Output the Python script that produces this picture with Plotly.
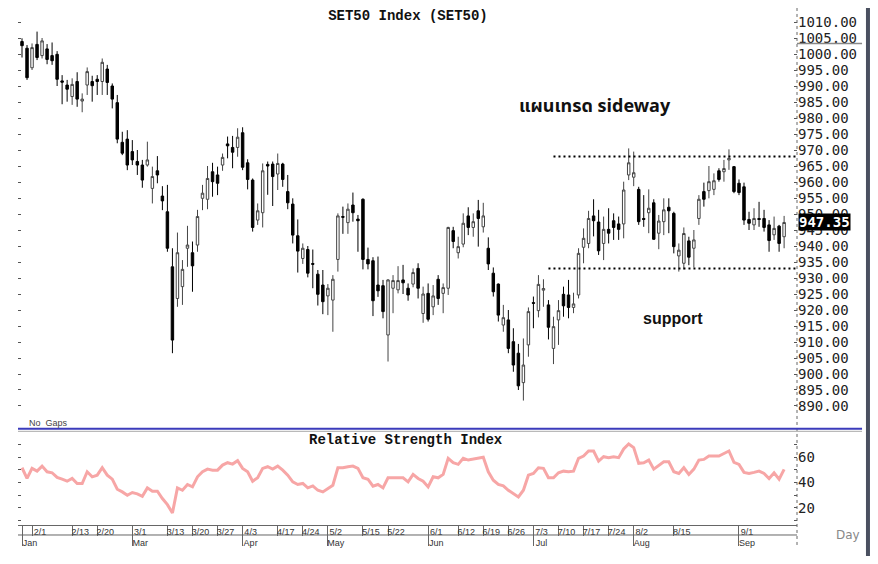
import plotly.graph_objects as go

# ---------------- data ----------------
open_ = [1003.9, 1001.8, 995.7, 1003.0, 999.5, 1001.6, 999.5, 999.9, 991.6, 990.3,
         986.7, 991.4, 985.3, 990.3, 991.4, 992.1, 991.4, 995.3, 990.0, 984.8,
         972.4, 973.4, 969.5, 966.4, 965.3, 965.3, 958.0, 963.5, 955.6, 950.7,
         933.5, 923.6, 927.3, 939.3, 937.9, 940.3, 954.9, 954.6, 963.2, 962.2,
         965.3, 971.9, 970.8, 970.8, 975.4, 966.0, 960.6, 948.1, 950.4, 965.5,
         965.6, 962.5, 965.6, 957.0, 953.1, 943.2, 936.1, 938.9, 934.5, 931.2,
         927.8, 924.4, 923.1, 935.8, 949.2, 947.3, 952.8, 948.4, 954.6, 935.8,
         935.4, 927.8, 927.6, 912.2, 926.8, 926.3, 929.4, 926.8, 928.1, 933.0,
         918.9, 925.2, 921.0, 929.6, 925.2, 926.8, 944.8, 937.9, 940.6, 949.4,
         945.8, 951.0, 946.0, 939.3, 931.5, 928.1, 915.3, 916.9, 910.1, 906.5,
         897.3, 909.1, 922.3, 919.8, 926.2, 921.6, 908.0, 916.9, 924.9, 924.7,
         920.8, 924.7, 939.6, 940.8, 949.4, 947.5, 940.8, 945.2, 947.9, 946.9,
         946.9, 962.2, 961.5, 957.7, 948.6, 950.4, 953.5, 944.0, 947.6, 952.1,
         950.2, 936.9, 934.6, 941.6, 939.3, 948.6, 957.0, 957.3, 957.7, 963.5,
         963.2, 966.9, 964.8, 959.6, 958.5, 948.3, 946.6, 948.6, 948.6, 946.6,
         943.5, 946.2, 942.9]
high = [1004.9, 1002.8, 1003.3, 1007.0, 1005.0, 1003.1, 1003.6, 1000.9, 993.4, 991.9,
        992.4, 994.3, 987.7, 995.8, 993.2, 993.4, 998.6, 996.6, 990.8, 987.2,
        975.7, 976.2, 973.1, 970.0, 966.9, 972.6, 964.8, 968.1, 958.7, 959.1,
        939.3, 944.2, 935.6, 946.3, 941.4, 951.3, 959.1, 965.0, 966.0, 964.8,
        968.9, 974.2, 974.4, 976.8, 977.1, 967.1, 961.1, 953.3, 965.8, 966.4,
        966.4, 968.9, 966.0, 962.2, 954.9, 948.3, 940.8, 940.0, 938.9, 932.5,
        932.5, 928.1, 930.9, 950.2, 952.3, 953.3, 956.7, 949.7, 954.9, 939.5,
        936.5, 936.7, 929.4, 929.6, 930.9, 933.7, 934.1, 928.3, 933.0, 934.6,
        927.3, 928.3, 927.8, 930.9, 928.3, 946.0, 946.0, 942.9, 950.2, 952.1,
        950.2, 954.4, 953.5, 942.7, 933.3, 928.3, 921.6, 920.0, 914.3, 909.4,
        911.1, 920.8, 924.2, 930.9, 929.6, 923.1, 917.9, 923.1, 927.3, 929.4,
        925.4, 939.3, 945.5, 951.0, 954.6, 951.3, 949.2, 951.8, 950.2, 949.2,
        960.1, 970.5, 969.5, 958.5, 955.9, 957.7, 954.6, 949.7, 954.9, 954.9,
        950.7, 940.8, 945.8, 942.9, 945.0, 955.9, 959.8, 965.0, 962.7, 964.3,
        966.9, 970.2, 965.0, 960.8, 959.8, 950.7, 951.8, 953.8, 951.3, 948.1,
        949.2, 946.6, 949.4]
low = [998.9, 991.9, 995.0, 998.1, 998.6, 996.8, 996.6, 990.0, 984.3, 985.1,
       984.1, 983.5, 981.8, 987.2, 985.1, 987.2, 987.2, 987.2, 983.0, 972.1,
       968.4, 963.7, 965.3, 962.2, 958.2, 964.8, 953.3, 959.6, 951.2, 938.2,
       906.5, 921.0, 921.6, 933.5, 925.7, 938.2, 951.2, 951.5, 955.4, 955.9,
       963.5, 967.4, 964.3, 967.9, 963.7, 957.7, 944.5, 946.6, 945.8, 956.0,
       952.5, 957.5, 958.5, 951.5, 940.8, 931.7, 934.4, 930.2, 926.8, 921.4,
       918.7, 918.4, 913.2, 932.0, 943.8, 943.8, 947.6, 938.2, 932.7, 932.7,
       918.1, 924.1, 917.4, 903.9, 919.0, 925.2, 925.0, 922.9, 927.1, 923.6,
       916.0, 916.4, 918.4, 921.6, 919.0, 924.7, 939.3, 936.1, 939.6, 943.4,
       942.9, 939.8, 944.2, 932.5, 924.2, 916.4, 913.2, 906.5, 900.7, 895.0,
       891.7, 905.4, 914.3, 917.7, 921.0, 910.8, 903.1, 909.1, 917.9, 917.4,
       919.0, 923.6, 934.6, 939.3, 943.0, 937.2, 935.6, 940.8, 941.9, 941.9,
       942.4, 960.6, 958.7, 946.6, 946.0, 944.0, 941.9, 939.0, 943.4, 944.0,
       937.7, 932.0, 932.7, 934.0, 933.3, 946.6, 952.3, 954.9, 955.9, 960.1,
       960.1, 963.8, 956.5, 955.9, 946.6, 945.0, 945.0, 946.0, 944.5, 938.2,
       941.9, 938.2, 939.3]
close = [1002.6, 992.6, 1002.0, 998.9, 1004.1, 998.3, 997.9, 992.1, 991.2, 989.0,
         990.5, 985.9, 985.9, 994.5, 990.1, 991.4, 997.4, 991.1, 985.9, 973.4,
         969.0, 965.3, 966.9, 965.3, 960.6, 966.9, 961.7, 962.2, 954.1, 939.3,
         910.6, 937.9, 932.7, 940.3, 933.8, 949.2, 956.5, 961.1, 960.1, 959.6,
         967.7, 971.3, 969.3, 974.0, 964.6, 960.8, 945.8, 951.0, 963.5, 965.0,
         961.7, 965.8, 960.8, 953.5, 943.4, 938.4, 939.3, 931.5, 934.3, 924.9,
         922.6, 926.8, 929.6, 949.4, 949.0, 951.5, 950.4, 947.9, 935.8, 934.4,
         922.9, 926.0, 919.5, 929.4, 929.2, 929.2, 928.5, 924.7, 931.7, 926.8,
         925.0, 917.1, 924.4, 923.6, 927.0, 945.8, 941.4, 939.8, 947.1, 945.8,
         947.6, 948.6, 949.4, 934.4, 925.7, 918.4, 917.6, 908.0, 902.8, 896.3,
         902.8, 919.5, 922.1, 928.0, 926.7, 914.6, 914.8, 919.8, 921.3, 920.8,
         921.9, 937.7, 942.4, 948.6, 947.9, 938.5, 945.2, 944.0, 945.8, 945.2,
         957.5, 966.0, 962.9, 947.6, 948.3, 951.8, 942.1, 947.8, 951.3, 951.0,
         939.8, 938.7, 943.9, 936.5, 941.9, 954.6, 954.6, 960.1, 960.4, 960.8,
         964.2, 967.4, 957.0, 956.7, 948.1, 947.1, 948.6, 948.3, 945.8, 941.7,
         945.5, 940.8, 947.35]
rsi = [51.7, 43.2, 51.2, 49.0, 53.0, 48.5, 47.7, 44.0, 42.6, 41.0,
       43.2, 39.2, 39.2, 48.5, 44.5, 45.8, 51.7, 45.8, 42.6, 34.6,
       32.5, 29.8, 32.0, 31.0, 29.0, 35.7, 33.0, 33.0, 27.2, 22.4,
       15.7, 35.7, 33.8, 38.4, 36.5, 44.5, 48.5, 50.6, 49.8, 49.8,
       53.8, 55.7, 54.6, 57.3, 51.2, 48.5, 41.0, 43.7, 51.2, 52.5,
       50.6, 53.0, 49.8, 45.8, 40.5, 38.4, 39.2, 35.7, 37.3, 33.8,
       32.5, 35.2, 37.8, 51.7, 51.7, 52.5, 53.0, 51.2, 43.7, 42.6,
       37.0, 38.4, 35.7, 43.7, 43.7, 43.7, 43.7, 40.5, 46.4, 43.2,
       41.0, 36.5, 44.5, 43.7, 46.4, 59.2, 55.7, 54.4, 59.2, 57.8,
       58.6, 59.7, 60.0, 48.5, 41.8, 38.4, 37.3, 33.8, 31.0, 28.5,
       33.8, 45.8, 47.2, 51.7, 51.2, 43.7, 43.7, 47.7, 49.0, 48.5,
       49.0, 59.2, 61.0, 65.0, 65.0, 57.0, 60.5, 59.7, 60.5, 59.7,
       66.6, 70.6, 67.7, 55.2, 55.7, 57.8, 50.6, 53.8, 56.4, 56.4,
       48.5, 47.2, 51.7, 46.4, 50.6, 57.8, 58.3, 61.0, 61.0, 61.0,
       63.0, 65.0, 56.0, 54.4, 48.0, 47.2, 48.0, 49.0, 47.2, 43.2,
       47.7, 42.6, 50.4]

day_tick_idx = [2, 10, 15, 22, 29, 34, 39, 44, 51, 56, 61, 68, 73, 81, 87, 92, 97,
                102, 107, 112, 117, 122, 130, 143]
day_tick_labels = ["2/1", "2/13", "2/20", "3/1", "3/13", "3/20", "3/27", "4/3", "4/17",
                   "4/24", "5/2", "5/15", "5/22", "6/1", "6/12", "6/19", "6/26", "7/3",
                   "7/10", "7/17", "7/24", "8/2", "8/15", "9/1"]
month_tick_idx = [0, 22, 44, 61, 81, 102, 122, 143]
month_labels = ["Jan", "Mar", "Apr", "May", "Jun", "Jul", "Aug", "Sep"]

price_ticks = list(range(890, 1011, 5))
rsi_ticks = list(range(10, 81, 10))
rsi_ticktext = [str(v) if v in (20, 40, 60) else "" for v in rsi_ticks]

resistance_level = 968.0
resistance_start = 106
support_level = 933.0
support_start = 105
marker_level = 1003.3

idx = list(range(len(close)))
last_close = close[-1]

# ---------------- figure ----------------
XR = [-0.8, 154.57]
MONO = "DejaVu Sans Mono, monospace"
SANS = "Liberation Sans, Arial, sans-serif"
COURIER = "Courier New, Liberation Mono, monospace"

fig = go.Figure()
fig.add_trace(go.Candlestick(
    x=idx, open=open_, high=high, low=low, close=close,
    xaxis="x", yaxis="y", whiskerwidth=0,
    increasing=dict(line=dict(color="#444444", width=1), fillcolor="white"),
    decreasing=dict(line=dict(color="#000000", width=1), fillcolor="black"),
    showlegend=False, hoverinfo="skip"))
fig.add_trace(go.Scatter(
    x=idx, y=rsi, xaxis="x2", yaxis="y2", mode="lines",
    line=dict(color="#f7a6a6", width=3), showlegend=False, hoverinfo="skip"))
# carrier for the month axis (no visible marks)
fig.add_trace(go.Scatter(x=[], y=[], xaxis="x3", yaxis="y2", mode="lines",
                         showlegend=False, hoverinfo="skip"))

main_bottom = 0.19417
rsi_top = 0.18058

fig.update_layout(
    width=862, height=548,
    margin=dict(l=10, r=73, t=2, b=31),
    paper_bgcolor="white", plot_bgcolor="white", showlegend=False,
    title=dict(text="<b>SET50 Index (SET50)</b>", x=0.4640, xanchor="center",
               y=0.9872, yanchor="middle",
               font=dict(family=COURIER, size=14, color="#111")),
    xaxis=dict(domain=[0, 1], range=XR, anchor="y", showticklabels=False, ticks="",
               showgrid=False, zeroline=False, showline=False,
               rangeslider=dict(visible=False)),
    yaxis=dict(domain=[main_bottom, 1], range=[884.06, 1013.75], side="right", anchor="x",
               tickvals=price_ticks, tickformat=".2f", ticks="inside", ticklen=3,
               tickcolor="#555", mirror="ticks", showgrid=False, zeroline=False,
               showline=False, tickfont=dict(family=MONO, size=14, color="#222")),
    xaxis2=dict(domain=[0, 1], range=XR, anchor="y2", tickvals=day_tick_idx,
                ticktext=day_tick_labels, ticks="outside", ticklen=10, tickcolor="#666",
                showline=True, linecolor="#666", linewidth=1, showgrid=False,
                zeroline=False, tickfont=dict(family=SANS, size=9, color="#333"),
                ticklabelshift=8, ticklabelstandoff=-12),
    xaxis3=dict(overlaying="x2", anchor="y2", range=XR, side="bottom",
                tickvals=month_tick_idx, ticktext=month_labels, ticks="outside",
                ticklen=20, tickcolor="#666", showgrid=False, zeroline=False,
                showline=False, tickfont=dict(family=SANS, size=9, color="#333"),
                ticklabelshift=8, ticklabelstandoff=-11),
    yaxis2=dict(domain=[0, rsi_top], range=[6.2, 80.1], side="right", anchor="x2",
                tickvals=rsi_ticks, ticktext=rsi_ticktext, ticks="inside", ticklen=3,
                tickcolor="#555", mirror="ticks", showgrid=False, zeroline=False,
                showline=False, tickfont=dict(family=MONO, size=14, color="#222")),
)

shapes = [
    dict(type="line", xref="x", yref="y", x0=resistance_start, x1=XR[1],
         y0=resistance_level, y1=resistance_level,
         line=dict(color="black", width=2, dash="2px,3px")),
    dict(type="line", xref="x", yref="y", x0=support_start, x1=XR[1],
         y0=support_level, y1=support_level,
         line=dict(color="black", width=2, dash="2px,3px")),
    # right axis line (dotted)
    dict(type="line", xref="paper", yref="paper", x0=1, x1=1, y0=-0.0388, y1=1.0136,
         line=dict(color="#666", width=1, dash="dot")),
    # panel separator
    dict(type="line", xref="paper", yref="paper", x0=0, x1=1.0835, y0=0.1868, y1=0.1868,
         line=dict(color="#3b3bbb", width=2)),
    dict(type="line", xref="paper", yref="paper", x0=0, x1=1.0835, y0=0.1819, y1=0.1819,
         line=dict(color="#aaaaaa", width=1)),
    # date row divider
    dict(type="line", xref="paper", yref="paper", x0=0, x1=1, y0=-0.0194, y1=-0.0194,
         line=dict(color="#666", width=1)),
    # marker line near 1003
    dict(type="line", xref="paper", yref="y", x0=1, x1=1.0835, y0=marker_level,
         y1=marker_level, line=dict(color="#888", width=1.5)),
    # frame
    dict(type="line", xref="paper", yref="paper", x0=-0.0154, x1=-0.0154, y0=-0.08,
         y1=1.03, line=dict(color="#dddddd", width=2)),
    dict(type="line", xref="paper", yref="paper", x0=1.0911, x1=1.0911, y0=-0.08,
         y1=1.03, line=dict(color="#4a5060", width=4)),
]
fig.update_layout(shapes=shapes)

annotations = [
    dict(text="<b>Relative Strength Index</b>", xref="paper", yref="paper", x=0.498,
         y=0.165, xanchor="center", yanchor="middle", showarrow=False,
         font=dict(family=COURIER, size=14, color="#111")),
    dict(text="<b>แผนเทรด sideway</b>", xref="paper", yref="paper", x=0.7407, y=0.8117,
         xanchor="center", yanchor="middle", showarrow=False,
         font=dict(family="Noto Sans Thai, Tahoma, Liberation Sans, sans-serif", size=18, color="#111")),
    dict(text="<b>support</b>", xref="paper", yref="paper", x=0.8408, y=0.4019,
         xanchor="center", yanchor="middle", showarrow=False,
         font=dict(family="Liberation Sans, Arial, sans-serif", size=16, color="#111")),
    dict(text="No  Gaps", xref="paper", yref="paper", x=0.0116, y=0.198,
         xanchor="left", yanchor="middle", showarrow=False,
         font=dict(family=SANS, size=9, color="#444")),
    dict(text="Day", xref="paper", yref="paper", x=1.0655, y=-0.0194,
         xanchor="center", yanchor="middle", showarrow=False,
         font=dict(family="DejaVu Sans, sans-serif", size=12, color="#888")),
    dict(text="<b>%.2f</b>" % last_close, xref="paper", yref="y", x=1, y=last_close,
         xanchor="left", yanchor="middle", xshift=1, showarrow=False, bgcolor="black",
         borderpad=0, font=dict(family=MONO, size=14, color="white")),
]
fig.update_layout(annotations=annotations)

fig.write_html("out.html")
